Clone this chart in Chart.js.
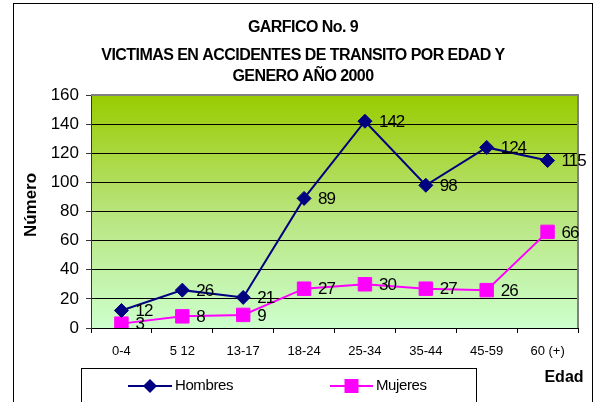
<!DOCTYPE html>
<html>
<head>
<meta charset="utf-8">
<script src="https://cdn.jsdelivr.net/npm/chart.js@4/dist/chart.umd.min.js"></script>
<style>
  html, body { margin: 0; padding: 0; background: #fff; }
  canvas { display: block; }
</style>
</head>
<body>
<canvas id="chart" width="596" height="402"></canvas>
<script>
// datos
const categories = ['0-4', '5 12', '13-17', '18-24', '25-34', '35-44', '45-59', '60 (+)'];
const hombres = [12, 26, 21, 89, 142, 98, 124, 115];
const mujeres = [3, 8, 9, 27, 30, 27, 26, 66];
const yMin = 0, yMax = 160, yStep = 20;
const titleLines = ['GARFICO No. 9', 'VICTIMAS EN ACCIDENTES DE TRANSITO POR EDAD Y', 'GENERO AÑO 2000'];
const seriesNames = ['Hombres', 'Mujeres'];

const FONT = "'Liberation Sans', Arial, sans-serif";
const NAVY = '#000080';
const PINK = '#ff00ff';

const frame = {
  id: 'frame',
  beforeDraw(chart) {
    const ctx = chart.ctx, a = chart.chartArea;
    ctx.save();
    ctx.fillStyle = '#fff';
    ctx.fillRect(0, 0, chart.width, chart.height);
    ctx.strokeStyle = '#000';
    ctx.lineWidth = 1;
    ctx.strokeRect(13.5, 3.5, 579, 420);
    const g = ctx.createLinearGradient(0, a.top, 0, a.bottom);
    g.addColorStop(0, '#99cc00');
    g.addColorStop(0.5, '#b8e47c');
    g.addColorStop(1, '#ccffcc');
    ctx.fillStyle = g;
    ctx.fillRect(a.left, a.top, a.right - a.left, a.bottom - a.top);
    // titulo
    ctx.fillStyle = '#000';
    ctx.font = 'bold 16px ' + FONT;
    ctx.letterSpacing = '-0.55px';
    ctx.textAlign = 'center';
    ctx.textBaseline = 'middle';
    [28, 56, 77].forEach((y, i) => ctx.fillText(titleLines[i], 303, y));
    ctx.letterSpacing = '0px';
    // titulos de ejes
    ctx.font = 'bold 16px ' + FONT;
    ctx.fillText('Edad', 564, 378);
    ctx.translate(31, 205);
    ctx.rotate(-Math.PI / 2);
    ctx.font = 'bold 17px ' + FONT;
    ctx.fillText('Número', 0, 0);
    ctx.restore();
  },
  beforeDatasetsDraw(chart) {
    const ctx = chart.ctx, a = chart.chartArea;
    ctx.save();
    ctx.strokeStyle = '#808080';
    ctx.lineWidth = 2;
    ctx.beginPath();
    ctx.moveTo(a.left, a.top);
    ctx.lineTo(a.right, a.top);
    ctx.lineTo(a.right, a.bottom);
    ctx.stroke();
    ctx.restore();
  },
  afterDatasetsDraw(chart) {
    const ctx = chart.ctx;
    ctx.save();
    ctx.fillStyle = '#000';
    ctx.font = '17px ' + FONT;
    ctx.letterSpacing = '-1px';
    ctx.textAlign = 'left';
    ctx.textBaseline = 'middle';
    chart.data.datasets.forEach((ds, i) => {
      chart.getDatasetMeta(i).data.forEach((pt, j) => {
        ctx.fillText(ds.data[j], pt.x + 14, pt.y + 1);
      });
    });
    ctx.restore();
  },
  afterDraw(chart) {
    const ctx = chart.ctx;
    ctx.save();
    ctx.strokeStyle = '#000';
    ctx.lineWidth = 1;
    ctx.strokeRect(81.5, 368.5, 395, 60);
    const items = [
      { x1: 128, x2: 172, tx: 175, color: NAVY, shape: 'diamond' },
      { x1: 330, x2: 373, tx: 376, color: PINK, shape: 'square' }
    ];
    const y = 386;
    ctx.font = '15px ' + FONT;
    ctx.letterSpacing = '-0.4px';
    ctx.textBaseline = 'middle';
    items.forEach((it, i) => {
      const cx = (it.x1 + it.x2) / 2;
      ctx.strokeStyle = it.color;
      ctx.lineWidth = 2;
      ctx.beginPath();
      ctx.moveTo(it.x1, y);
      ctx.lineTo(it.x2, y);
      ctx.stroke();
      ctx.fillStyle = it.color;
      ctx.beginPath();
      if (it.shape === 'diamond') {
        ctx.moveTo(cx - 7, y); ctx.lineTo(cx, y - 7); ctx.lineTo(cx + 7, y); ctx.lineTo(cx, y + 7);
      } else {
        ctx.rect(cx - 7, y - 7, 14, 14);
      }
      ctx.closePath();
      ctx.fill();
      ctx.fillStyle = '#000';
      ctx.fillText(seriesNames[i], it.tx, y);
    });
    ctx.restore();
  }
};

new Chart(document.getElementById('chart'), {
  type: 'line',
  data: {
    labels: categories,
    datasets: [
      {
        label: seriesNames[0], data: hombres,
        borderColor: NAVY, backgroundColor: NAVY, borderWidth: 2,
        pointStyle: 'rectRot', pointRadius: 7, pointBorderWidth: 1, tension: 0
      },
      {
        label: seriesNames[1], data: mujeres,
        borderColor: PINK, backgroundColor: PINK, borderWidth: 2,
        pointStyle: 'rect', pointRadius: 9.5, pointBorderWidth: 1, tension: 0
      }
    ]
  },
  options: {
    responsive: false,
    animation: false,
    layout: { padding: { left: 0, top: 95, right: 18, bottom: 0 } },
    plugins: { legend: { display: false }, title: { display: false }, tooltip: { enabled: false } },
    scales: {
      x: {
        offset: true,
        afterFit: s => { s.height = 74; },
        grid: { offset: true, drawOnChartArea: false, tickLength: 5, color: '#000' },
        border: { color: '#000', width: 1 },
        ticks: {
          color: '#000', padding: 11, maxRotation: 0, autoSkip: false,
          font: { family: FONT, size: 13 }
        }
      },
      y: {
        min: yMin, max: yMax,
        afterFit: s => { s.width = 91; },
        grid: {
          color: ctx => ctx.tick && ctx.tick.value === yMax ? '#808080' : '#000',
          tickColor: '#333', tickLength: 5, lineWidth: 1
        },
        border: { color: '#333', width: 1 },
        ticks: {
          stepSize: yStep, color: '#000', padding: 7,
          font: { family: FONT, size: 17 }
        }
      }
    }
  },
  plugins: [frame]
});
</script>
</body>
</html>
